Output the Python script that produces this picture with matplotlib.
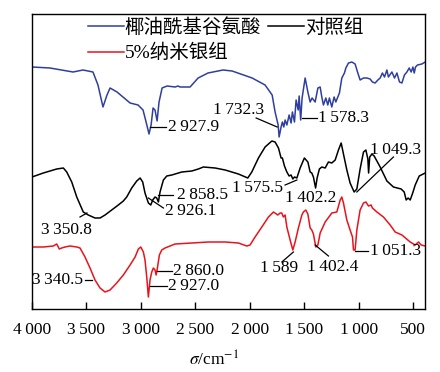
import matplotlib
matplotlib.use("Agg")
import matplotlib.pyplot as plt

plt.rcParams['font.family'] = ['Liberation Serif', 'Noto Sans CJK SC', 'DejaVu Sans']
plt.rcParams['mathtext.fontset'] = 'stix'

# wavenumbers (cm-1) and transmittance (a.u., offset)
blue_wn = [4000, 3835, 3623, 3531, 3440, 3394, 3348, 3311, 3283, 3219,
           3099, 3026, 2980, 2952, 2925, 2906, 2888, 2870, 2851, 2833,
           2805, 2759, 2686, 2658, 2640, 2548, 2474, 2383, 2245, 2162,
           1978, 1859, 1794, 1767, 1739, 1730, 1712, 1700, 1687, 1675,
           1659, 1638, 1620, 1608, 1589, 1574, 1555, 1546, 1532, 1519,
           1491, 1466, 1445, 1427, 1399, 1374, 1353, 1338, 1323, 1301,
           1283, 1268, 1246, 1225, 1209, 1191, 1176, 1154, 1130, 1117,
           1093, 1062, 1032, 1007, 986, 955, 924, 894, 873, 848,
           823, 802, 781, 762, 740, 726, 694, 670, 648, 624,
           602, 579, 556, 535, 517, 501, 489, 477, 459, 419, 388]
blue_t = [242, 241, 237, 239, 237, 224, 202, 214, 221, 217,
          206, 204, 199, 187, 175, 184, 201, 199, 188, 207,
          221, 223, 222, 223, 222, 222, 231, 236, 239, 238,
          231, 224, 214, 197, 184, 172, 182, 187, 182, 189,
          184, 194, 186, 197, 187, 209, 199, 213, 189, 211,
          231, 217, 207, 211, 207, 221, 222, 212, 204, 211,
          204, 211, 202, 212, 207, 212, 216, 231, 236, 241,
          246, 247, 245, 236, 229, 231, 231, 230, 227, 226,
          229, 231, 236, 232, 239, 232, 237, 231, 236, 227,
          226, 234, 237, 241, 237, 242, 236, 242, 244, 245, 247]

black_wn = [4000, 3896, 3773, 3712, 3681, 3635, 3589, 3529, 3483, 3421,
            3375, 3329, 3268, 3207, 3161, 3130, 3084, 3038, 3007, 2983,
            2962, 2931, 2909, 2891, 2870, 2854, 2839, 2824, 2793, 2762,
            2716, 2624, 2532, 2472, 2426, 2318, 2226, 2104, 2018, 1981,
            1920, 1859, 1797, 1767, 1736, 1712, 1700, 1681, 1659, 1638,
            1620, 1604, 1589, 1567, 1537, 1498, 1466, 1445, 1430, 1415,
            1395, 1381, 1360, 1338, 1307, 1277, 1246, 1215, 1185, 1160,
            1139, 1108, 1078, 1041, 1016, 986, 955, 933, 915, 908,
            898, 878, 857, 802, 740, 680, 609, 581, 563, 545,
            526, 503, 480, 443, 388]
black_t = [132, 136, 140, 141, 137, 127, 112, 97, 94, 91,
           91, 94, 99, 104, 108, 112, 121, 128, 131, 127,
           116, 106, 104, 109, 112, 111, 107, 117, 129, 133,
           134, 137, 138, 140, 142, 141, 139, 135, 131, 137,
           151, 162, 168, 167, 161, 151, 151, 143, 137, 133,
           134, 130, 132, 131, 141, 151, 147, 137, 136, 132,
           121, 131, 140, 142, 141, 147, 146, 149, 159, 166,
           155, 139, 126, 117, 120, 140, 157, 159, 150, 136,
           152, 155, 153, 142, 128, 122, 120, 117, 109, 111,
           109, 116, 124, 133, 136]

red_wn = [4000, 3896, 3804, 3773, 3749, 3727, 3697, 3651, 3589, 3559,
          3513, 3467, 3421, 3375, 3329, 3283, 3222, 3161, 3099, 3053,
          3023, 3001, 2977, 2962, 2946, 2931, 2916, 2900, 2885, 2870,
          2860, 2848, 2830, 2808, 2778, 2686, 2532, 2380, 2226, 2104,
          2027, 1997, 1951, 1889, 1828, 1782, 1742, 1721, 1706, 1691,
          1675, 1659, 1629, 1604, 1583, 1553, 1521, 1507, 1485, 1466,
          1445, 1430, 1415, 1393, 1374, 1353, 1307, 1246, 1200, 1169,
          1154, 1139, 1108, 1078, 1056, 1047, 1032, 1016, 986, 955,
          933, 909, 885, 873, 832, 772, 710, 664, 602, 526,
          480, 450, 425, 388]
red_t = [62, 62, 63, 65, 60, 61, 62, 63, 62, 61,
         52, 41, 29, 21, 17, 19, 26, 34, 44, 52,
         60, 62, 57, 49, 32, 12, 29, 37, 41, 39,
         34, 41, 54, 59, 61, 65, 66, 67, 67, 66,
         63, 64, 72, 82, 92, 97, 94, 96, 96, 92,
         94, 82, 69, 59, 67, 81, 94, 97, 99, 95,
         81, 79, 75, 62, 64, 76, 87, 96, 97, 109,
         112, 106, 89, 79, 72, 59, 59, 79, 99, 106,
         107, 103, 104, 101, 97, 92, 84, 77, 74, 67,
         64, 67, 64, 63]

xticks = [4000, 3500, 3000, 2500, 2000, 1500, 1000, 500]
xtick_labels = ['4\u2009000', '3\u2009500', '3\u2009000', '2\u2009500',
                '2\u2009000', '1\u2009500', '1\u2009000', '500']

fig = plt.figure(figsize=(4.4, 3.72), dpi=100)
ax = fig.add_axes([32/440, 1 - 309/372, 393/440, 295/372])

lb, = ax.plot(blue_wn, blue_t, color='#2f3f9f', lw=1.1)
lk, = ax.plot(black_wn, black_t, color='black', lw=1.1)
lr, = ax.plot(red_wn, red_t, color='#e8141c', lw=1.1)

ax.set_xlim(4000, 390)
ax.set_ylim(0, 295)
ax.set_yticks([])
ax.set_xticks(xticks)
ax.set_xticklabels(xtick_labels)
ax.tick_params(axis='x', direction='in', length=5, width=1, labelsize=12.5, pad=9)
for s in ax.spines.values():
    s.set_linewidth(1.0)

ax.set_xlabel(r'$\sigma$/cm$^{-1}$', fontsize=12.5)
ax.xaxis.set_label_coords(0.463, -0.14)

# peak labels
fs = 12.5
def lab(txt, tx, ty, ha='left', line=None):
    ax.text(tx, ty, txt, ha=ha, va='center', fontsize=fs)
    if line is not None:
        ax.plot([line[0], line[2]], [line[1], line[3]], color='black', lw=0.9)

ts = '\u2009'
lab('2' + ts + '927.9', 2750, 182, line=(2916, 182, 2769, 182))
lab('1' + ts + '732.3', 2107, 199, ha='center', line=(1941, 191, 1748, 182))
lab('1' + ts + '578.3', 1372, 191, line=(1521, 191, 1384, 191))

lab('3' + ts + '350.8', 3688, 79, ha='center', line=(3559, 92, 3495, 96))
lab('2' + ts + '858.5', 2667, 114, line=(2839, 114, 2701, 114))
lab('2' + ts + '926.1', 2778, 98, line=(2931, 111, 2793, 101))
lab('1' + ts + '575.5', 1693, 121, ha='right', line=(1675, 124, 1567, 129))
lab('1' + ts + '402.2', 1436, 111, ha='center')
lab('1' + ts + '049.3', 894, 159, line=(680, 152, 1016, 117))

lab('3' + ts + '340.5', 3531, 29, ha='right', line=(3513, 29, 3451, 29))
lab('2' + ts + '860.0', 2704, 38, line=(2854, 38, 2716, 38))
lab('2' + ts + '927.0', 2750, 23, line=(2916, 23, 2762, 23))
lab('1' + ts + '589', 1735, 41, ha='center', line=(1705, 47, 1599, 57))
lab('1' + ts + '402.4', 1238, 42, ha='center', line=(1277, 53, 1399, 64))
lab('1' + ts + '051.3', 894, 58, line=(1032, 58, 909, 58))

ax.legend([lb, lr, lk], ['椰油酰基谷氨酸', '5%纳米银组', '对照组'],
          ncol=2, loc='upper left', bbox_to_anchor=(0.132, 1.0),
          frameon=False, fontsize=14, handlelength=1.85, handletextpad=0.05,
          borderpad=0.2, borderaxespad=0, columnspacing=0.35, labelspacing=0.38)

fig.savefig('out.png', dpi=100)
